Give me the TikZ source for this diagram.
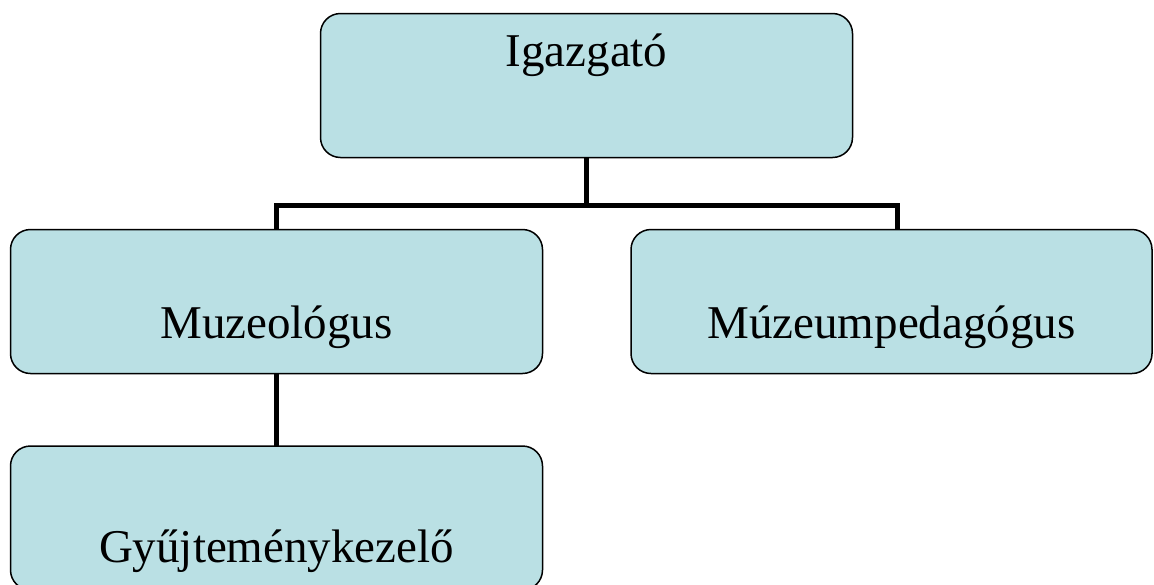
\documentclass[tikz,border=0pt]{standalone}
\usepackage{fontspec}
\setmainfont{Liberation Serif}
\definecolor{boxfill}{HTML}{BAE0E4}
\begin{document}
\begin{tikzpicture}[x=0.5pt,y=-0.5pt,
  box/.style={draw=black, line width=0.75pt, fill=boxfill, rounded corners=10pt,
    minimum width=266pt, minimum height=72pt, inner sep=0pt, outer sep=0pt},
  lbl/.style={anchor=base, inner sep=0pt, font=\fontsize{23.5}{28}\selectfont},
  conn/.style={line width=2.5pt}]
\useasboundingbox (0,0) rectangle (1154,584);
\clip (0,0) rectangle (1154,584);
\node[box] (ig) at (586.5,85.5) {};
\node[box] (mu) at (276.5,301.5) {};
\node[box, minimum width=260.5pt] (mp) at (891.5,301.5) {};
\node[box] (gy) at (276.5,518) {};
\node[lbl] (igt) at (586.5,66) {Igazgató};
\node[lbl] (mut) at (276.5,338) {Muzeológus};
\node[lbl] (mpt) at (891.5,338) {Múzeumpedagógus};
\node[lbl] (gyt) at (276.5,562) {Gyűjteménykezelő};
\coordinate (jn) at (586.5,205.5);
\draw[conn] (ig.south) -- (jn);
\draw[conn] (jn) -| (mu.north);
\draw[conn] (jn) -| ([xshift=2.75pt]mp.north);
\draw[conn] (mu.south) -- (gy.north);
\end{tikzpicture}
\end{document}
